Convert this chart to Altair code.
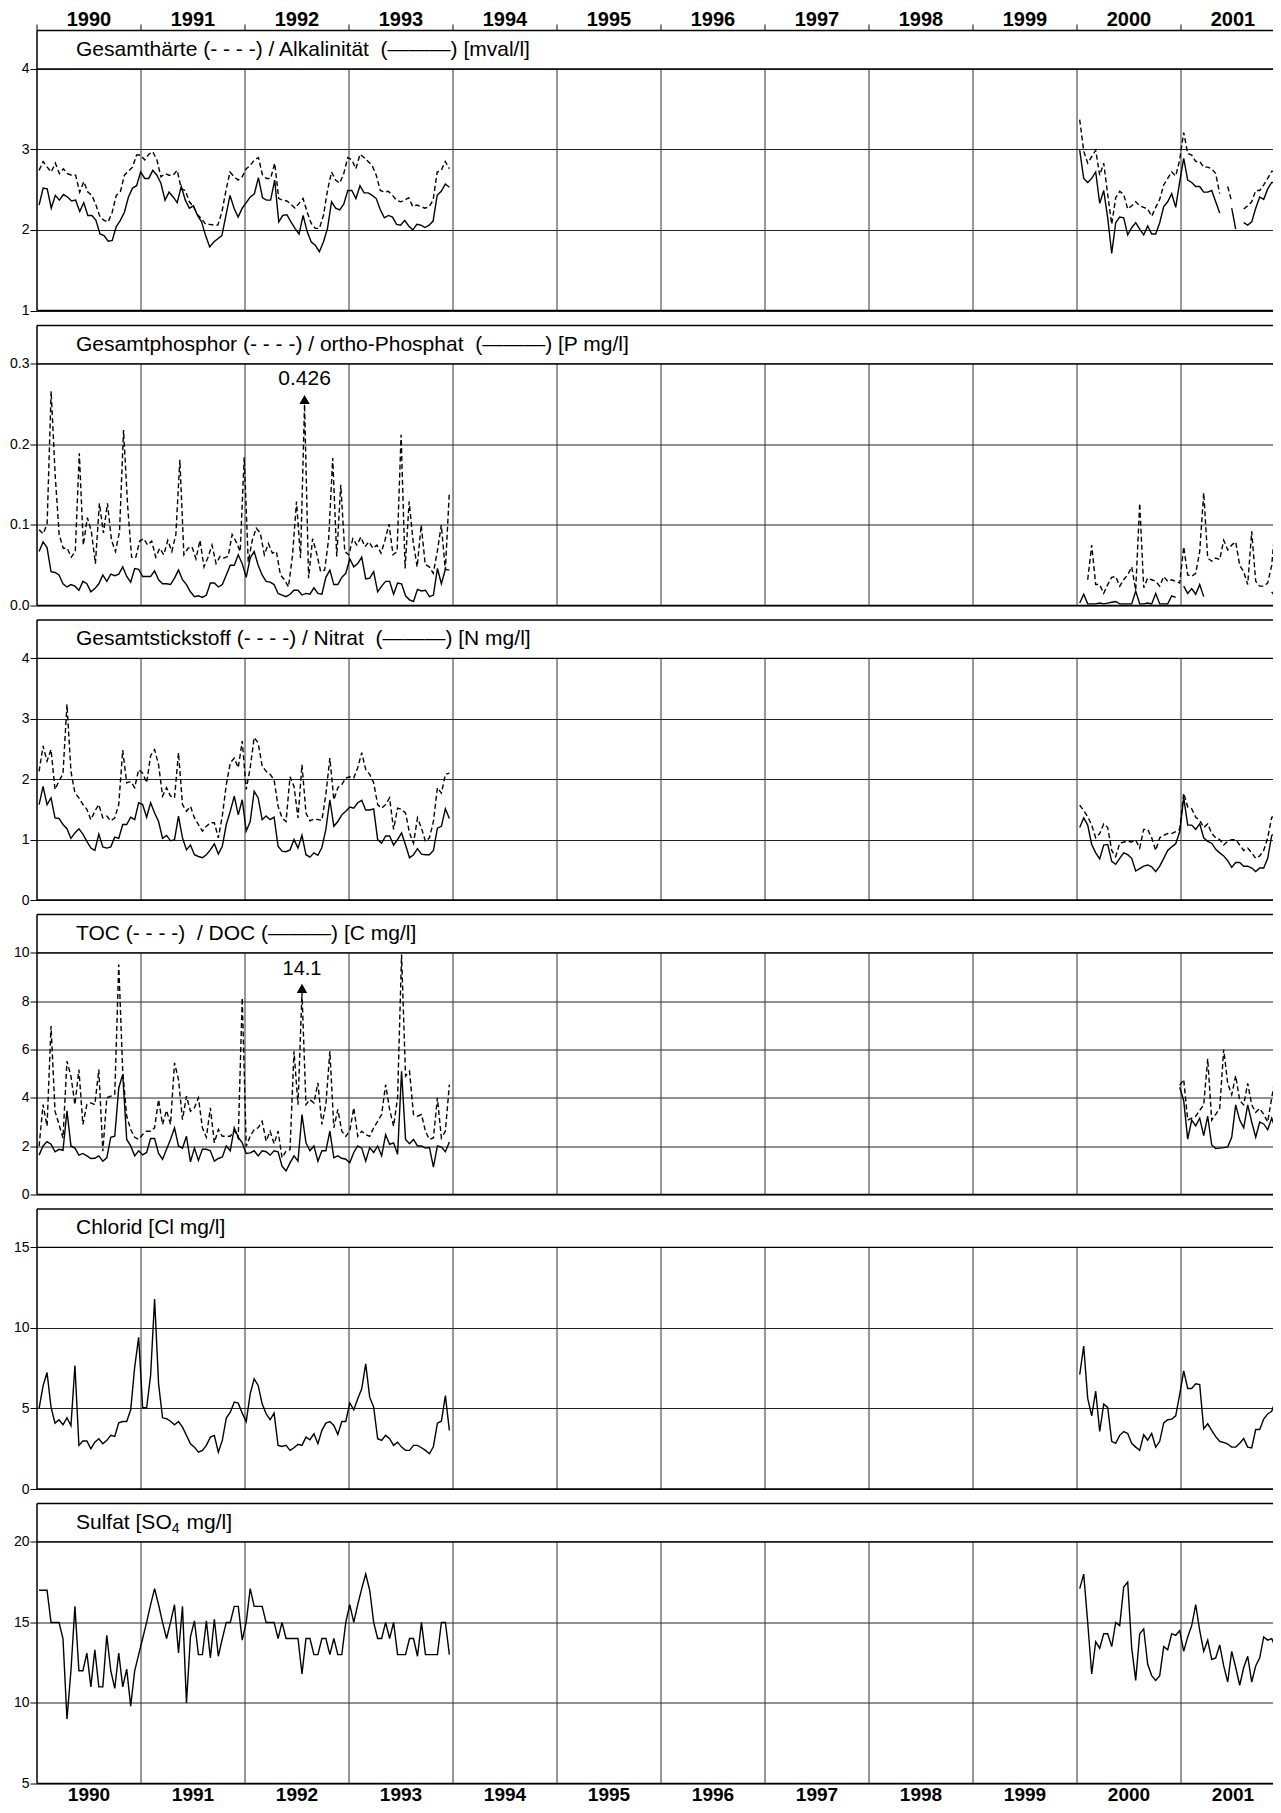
import altair as alt
import numpy as np
import pandas as pd

FONT = "Liberation Sans"

# ---------------- layout ----------------
W = 1244            # plot width in px
YEAR_PX = 104.0     # px per year
H_HEAD = 38.4       # header band
H_PLOT = 241.6      # plot band
H = H_HEAD + H_PLOT
B_TOP = 22.5        # band for the year labels above the first panel
B_BOT = 22.0        # band for the year labels below the last panel
TOP_BASE = 18.0     # baseline of the top year labels (px from top)
BOT_ROOM = 4.3      # room kept below the bottom labels' baseline
SPACING = 14.5
X0 = 1990.0
X1 = X0 + W / YEAR_PX

years = list(range(1990, 2002))
grid_years = list(range(1991, 2002))

# sampling periods (decimal years): 1990-1993 and 2000-2001, bi-weekly samples
P1_START, P1_END = 1990.02, 1993.965
P2_START, P2_STEP = 2000.026, 1.0 / 26.0

# ---------------- data ----------------
# Panel 1: Gesamthaerte (dashed) / Alkalinitaet (solid) [mval/l]
gesamthaerte_90 = [2.74, 2.85, 2.78, 2.72, 2.83, 2.70, 2.76, 2.70, 2.68, 2.68, 2.47, 2.60, 2.47, 2.43, 2.31, 2.16, 2.12, 2.10, 2.22, 2.43, 2.47, 2.68, 2.73, 2.78, 2.93, 2.93,
                   2.87, 2.94, 2.97, 2.87, 2.66, 2.70, 2.68, 2.68, 2.74, 2.51, 2.49, 2.35, 2.29, 2.19, 2.14, 2.07, 2.07, 2.06, 2.06, 2.22, 2.49, 2.72, 2.66, 2.62, 2.66,
                   2.76, 2.80, 2.87, 2.90, 2.68, 2.64, 2.64, 2.83, 2.39, 2.37, 2.36, 2.32, 2.27, 2.33, 2.39, 2.22, 2.08, 2.02, 2.02, 2.18, 2.49, 2.72, 2.62, 2.58, 2.70, 2.90,
                   2.87, 2.76, 2.94, 2.90, 2.85, 2.80, 2.68, 2.49, 2.47, 2.48, 2.43, 2.37, 2.35, 2.37, 2.40, 2.29, 2.31, 2.29, 2.27, 2.29, 2.37, 2.72, 2.74, 2.85, 2.76]
alkalinitaet_90 = [2.31, 2.52, 2.51, 2.27, 2.43, 2.37, 2.44, 2.41, 2.36, 2.37, 2.23, 2.34, 2.18, 2.18, 2.12, 1.95, 1.93, 1.86, 1.87, 2.04, 2.12, 2.22, 2.41, 2.52, 2.55, 2.72,
                   2.64, 2.64, 2.74, 2.68, 2.58, 2.37, 2.47, 2.41, 2.34, 2.54, 2.37, 2.27, 2.30, 2.18, 2.10, 1.93, 1.79, 1.85, 1.89, 1.93, 2.18, 2.43, 2.27, 2.16, 2.27,
                   2.34, 2.41, 2.45, 2.65, 2.40, 2.37, 2.37, 2.62, 2.10, 2.18, 2.19, 2.10, 2.02, 1.95, 2.18, 1.98, 1.85, 1.81, 1.73, 1.85, 2.02, 2.35, 2.27, 2.25, 2.32, 2.49,
                   2.49, 2.39, 2.55, 2.46, 2.46, 2.43, 2.39, 2.25, 2.15, 2.18, 2.16, 2.07, 2.06, 2.12, 2.05, 2.00, 2.07, 2.06, 2.03, 2.06, 2.11, 2.43, 2.48, 2.57, 2.53]
gesamthaerte_00 = [3.37, 2.98, 2.83, 2.91, 2.99, 2.68, 2.83, 2.44, 2.07, 2.40, 2.48, 2.44, 2.26, 2.30, 2.35, 2.30, 2.28, 2.26, 2.17, 2.28, 2.38, 2.56, 2.64, 2.72, 2.67, 2.87,
                   3.21, 2.95, 2.93, 2.85, 2.85, 2.78, 2.78, 2.76, 2.70, 2.45, None, 2.54, 2.35, None, None, 2.26, 2.30, 2.35, 2.49, 2.49, 2.56, 2.64, 2.73, 2.72, 2.74]
alkalinitaet_00 = [2.99, 2.64, 2.59, 2.64, 2.72, 2.33, 2.49, 2.15, 1.71, 2.09, 2.16, 2.15, 1.94, 2.03, 2.09, 2.01, 1.94, 2.05, 1.95, 1.95, 2.09, 2.29, 2.35, 2.45, 2.28, 2.60,
                   2.89, 2.62, 2.59, 2.54, 2.54, 2.47, 2.47, 2.49, 2.35, 2.21, None, None, 2.27, 2.01, None, 2.09, 2.06, 2.10, 2.27, 2.41, 2.38, 2.51, 2.59, 2.59, 2.39]

# Panel 2: Gesamtphosphor (dashed) / ortho-Phosphat (solid) [P mg/l]
gesamtphosphor_90 = [0.094, 0.089, 0.101, 0.266, 0.162, 0.088, 0.071, 0.071, 0.060, 0.067, 0.189, 0.075, 0.109, 0.092, 0.052, 0.127, 0.090, 0.127, 0.081, 0.067, 0.092, 0.218, 0.125, 0.060, 0.059, 0.080,
                     0.083, 0.075, 0.080, 0.060, 0.071, 0.063, 0.081, 0.067, 0.088, 0.181, 0.063, 0.071, 0.073, 0.058, 0.081, 0.048, 0.060, 0.075, 0.052, 0.061, 0.059, 0.061, 0.088, 0.079, 0.067, 0.184,
                     0.054, 0.081, 0.096, 0.090, 0.063, 0.077, 0.065, 0.067, 0.038, 0.032, 0.023, 0.062, 0.129, 0.059, 0.426, 0.034, 0.083, 0.065, 0.042, 0.044, 0.083, 0.183, 0.061, 0.150, 0.067, 0.063,
                     0.083, 0.075, 0.085, 0.073, 0.079, 0.071, 0.075, 0.065, 0.081, 0.101, 0.063, 0.067, 0.212, 0.046, 0.129, 0.079, 0.048, 0.100, 0.051, 0.048, 0.040, 0.067, 0.100, 0.044, 0.141]
orthophosphat_90 = [0.067, 0.079, 0.072, 0.042, 0.041, 0.038, 0.027, 0.023, 0.026, 0.024, 0.019, 0.030, 0.027, 0.017, 0.021, 0.027, 0.038, 0.030, 0.039, 0.037, 0.039, 0.048, 0.036, 0.029, 0.046, 0.045,
                    0.036, 0.036, 0.036, 0.043, 0.032, 0.027, 0.027, 0.026, 0.034, 0.044, 0.032, 0.026, 0.017, 0.011, 0.012, 0.010, 0.013, 0.028, 0.028, 0.023, 0.026, 0.038, 0.050, 0.050, 0.063, 0.052,
                    0.035, 0.059, 0.067, 0.050, 0.038, 0.030, 0.029, 0.026, 0.015, 0.013, 0.011, 0.014, 0.019, 0.019, 0.013, 0.015, 0.014, 0.022, 0.015, 0.014, 0.035, 0.044, 0.026, 0.026, 0.035, 0.040,
                    0.058, 0.048, 0.052, 0.060, 0.033, 0.034, 0.042, 0.017, 0.024, 0.030, 0.030, 0.014, 0.028, 0.027, 0.012, 0.007, 0.005, 0.020, 0.018, 0.019, 0.011, 0.013, 0.046, 0.027, 0.045, 0.044]
gesamtphosphor_00 = [None, None, 0.032, 0.075, 0.026, 0.026, 0.015, 0.026, 0.035, 0.036, 0.024, 0.032, 0.038, 0.048, 0.019, 0.127, 0.022, 0.034, 0.032, 0.030, 0.024, 0.036, 0.030, 0.032, 0.030, 0.028,
                     0.073, 0.038, 0.036, 0.040, 0.067, 0.140, 0.059, 0.055, 0.059, 0.057, 0.081, 0.069, 0.075, 0.079, 0.050, 0.042, 0.026, 0.092, 0.030, 0.024, 0.024, 0.028, 0.050, 0.105, 0.036]
orthophosphat_00 = [0.003, 0.014, 0.002, 0.002, 0.002, 0.003, 0.002, 0.003, 0.004, 0.005, 0.002, 0.002, 0.002, 0.002, 0.018, 0.002, 0.002, 0.003, 0.002, 0.015, 0.002, 0.002, 0.002, 0.012, 0.010, None,
                    0.024, 0.015, 0.021, 0.014, 0.026, 0.011, None, None, None, None, None, None, None, None, None, None, None, None, None, None, None, None, 0.017, 0.010, 0.008]

# Panel 3: Gesamtstickstoff (dashed) / Nitrat (solid) [N mg/l]
gesamtstickstoff_90 = [2.13, 2.55, 2.30, 2.49, 1.83, 1.97, 2.09, 3.24, 2.13, 1.77, 1.69, 1.58, 1.50, 1.33, 1.47, 1.58, 1.36, 1.39, 1.31, 1.36, 1.58, 2.48, 1.94, 1.96, 1.86, 2.16,
                       2.10, 1.94, 2.39, 2.49, 2.24, 1.72, 1.86, 1.72, 1.69, 2.44, 1.58, 1.47, 1.55, 1.36, 1.25, 1.14, 1.22, 1.28, 1.28, 1.03, 1.39, 1.91, 2.27, 2.35, 2.19, 2.63,
                       1.83, 2.19, 2.69, 2.60, 2.22, 2.13, 2.08, 1.99, 1.55, 1.36, 1.30, 2.04, 1.88, 1.36, 2.24, 1.44, 1.31, 1.34, 1.33, 1.32, 1.75, 2.35, 1.66, 1.86, 1.91, 2.02,
                       2.04, 2.02, 2.19, 2.44, 2.16, 2.08, 1.94, 1.58, 1.52, 1.58, 1.69, 1.17, 1.52, 1.50, 1.44, 1.11, 0.94, 1.36, 1.19, 0.97, 1.03, 1.30, 1.86, 1.77, 2.08, 2.10]
nitrat_90 = [1.58, 1.88, 1.58, 1.69, 1.36, 1.35, 1.25, 1.18, 1.02, 1.11, 1.18, 1.09, 0.97, 0.86, 0.82, 1.09, 0.88, 0.86, 0.88, 1.04, 1.02, 1.25, 1.25, 1.37, 1.33, 1.61,
             1.58, 1.37, 1.61, 1.44, 1.30, 1.02, 1.07, 0.98, 1.00, 1.39, 1.03, 0.83, 0.91, 0.75, 0.72, 0.70, 0.75, 0.83, 0.93, 0.76, 0.89, 1.25, 1.47, 1.72, 1.41, 1.66,
             1.14, 1.30, 1.80, 1.69, 1.33, 1.39, 1.33, 1.37, 0.89, 0.81, 0.80, 0.83, 1.00, 0.86, 1.07, 0.75, 0.71, 0.78, 0.74, 0.87, 1.17, 1.66, 1.22, 1.30, 1.41, 1.47,
             1.54, 1.52, 1.61, 1.65, 1.49, 1.49, 1.51, 1.00, 0.94, 1.06, 1.06, 0.91, 1.00, 1.11, 0.91, 0.70, 0.75, 0.85, 0.76, 0.75, 0.75, 0.82, 1.19, 1.22, 1.51, 1.35]
gesamtstickstoff_00 = [1.57, 1.48, 1.38, 1.24, 1.03, 1.10, 1.26, 1.20, 0.82, 0.72, 0.94, 0.96, 0.97, 0.96, 0.99, 0.86, 1.17, 1.17, 1.03, 0.82, 1.03, 1.07, 1.10, 1.10, 1.13, 1.17,
                       1.77, 1.54, 1.51, 1.37, 1.32, 1.20, 1.26, 1.10, 1.03, 1.00, 0.91, 0.97, 1.00, 1.00, 0.91, 0.82, 0.86, 0.78, 0.69, 0.73, 0.82, 1.03, 1.37, 1.38, 1.17]
nitrat_00 = [1.20, 1.36, 1.24, 0.92, 0.78, 0.68, 0.91, 0.92, 0.64, 0.59, 0.69, 0.78, 0.75, 0.69, 0.48, 0.52, 0.56, 0.58, 0.55, 0.47, 0.56, 0.69, 0.82, 0.88, 0.93, 1.13,
             1.70, 1.24, 1.24, 1.17, 1.26, 1.03, 0.97, 0.94, 0.84, 0.78, 0.73, 0.65, 0.54, 0.62, 0.62, 0.56, 0.56, 0.53, 0.47, 0.53, 0.53, 0.69, 1.07, 1.10, 0.91]

# Panel 4: TOC (dashed) / DOC (solid) [C mg/l]
toc_90 = [2.00, 3.72, 2.83, 6.97, 3.45, 2.90, 2.34, 5.52, 4.90, 3.72, 5.17, 2.90, 3.72, 3.79, 3.72, 5.17, 1.79, 4.00, 4.07, 4.14, 9.52, 5.10, 3.24, 2.69, 2.37, 2.28,
          2.48, 2.62, 2.62, 2.76, 3.93, 2.90, 3.48, 2.90, 5.45, 4.76, 3.10, 4.07, 3.45, 3.59, 4.00, 2.76, 2.37, 3.59, 2.14, 2.69, 2.41, 2.41, 2.41, 2.65, 2.34, 8.14,
          2.00, 2.41, 2.69, 2.76, 3.03, 2.21, 2.62, 2.10, 2.62, 1.52, 1.79, 1.86, 5.93, 3.72, 14.1, 3.72, 3.93, 3.79, 4.62, 2.90, 3.72, 5.93, 2.76, 3.52, 2.62, 2.41,
          2.62, 3.59, 2.41, 2.62, 2.48, 2.41, 2.76, 3.03, 3.31, 4.55, 3.52, 2.83, 4.00, 9.93, 4.90, 5.10, 3.31, 3.24, 3.31, 2.62, 2.28, 2.34, 4.00, 2.34, 2.62, 4.55]
doc_90 = [1.63, 2.01, 2.19, 2.08, 1.77, 1.87, 1.83, 3.46, 2.01, 1.92, 1.63, 1.70, 1.60, 1.49, 1.50, 1.60, 1.38, 1.52, 2.37, 2.41, 4.41, 4.97, 2.28, 2.01, 1.60, 1.81,
          1.64, 1.74, 2.32, 2.32, 1.70, 1.46, 1.87, 2.28, 2.76, 2.01, 1.92, 2.41, 1.35, 1.92, 1.41, 1.87, 1.87, 1.81, 1.38, 1.49, 1.55, 2.01, 1.81, 2.76, 2.37, 2.14,
          1.70, 1.72, 1.81, 1.60, 1.81, 1.77, 1.63, 1.81, 1.77, 1.17, 0.97, 1.31, 1.60, 1.38, 3.31, 2.14, 1.81, 2.01, 1.38, 1.81, 1.81, 2.62, 1.52, 1.60, 1.50, 1.46,
          1.31, 1.74, 2.01, 1.92, 1.38, 1.94, 1.74, 2.01, 1.60, 2.48, 2.08, 2.14, 1.66, 5.10, 2.28, 2.10, 2.28, 2.01, 2.01, 1.92, 1.94, 1.13, 2.01, 1.96, 1.77, 2.17]
toc_00 = [None] * 25 + [4.52, 4.76, 3.08, 3.16, 3.24, 3.48, 3.71, 5.62, 3.08, 3.32, 3.56, 6.00, 4.60, 4.13, 4.92, 3.89, 3.71, 4.60, 3.71, 3.40, 3.56, 3.32, 3.00, 4.00, 4.92, 3.71]
doc_00 = [None] * 25 + [4.44, 3.88, 2.29, 3.08, 2.84, 3.16, 2.44, 3.24, 2.05, 1.90, 1.92, 1.94, 1.97, 2.37, 3.71, 3.08, 2.76, 3.71, 3.00, 2.37, 3.00, 2.92, 2.68, 3.16, 2.68, 1.81]

# Panel 5: Chlorid [Cl mg/l]
chlorid_90 = [5.00, 6.40, 7.23, 5.08, 4.09, 4.30, 3.99, 4.42, 3.93, 7.67, 2.71, 2.98, 2.98, 2.50, 2.91, 3.12, 2.81, 3.02, 3.33, 3.26, 4.11, 4.19, 4.19, 4.92, 7.56, 9.42,
              5.04, 5.04, 7.05, 11.8, 6.53, 4.42, 4.36, 4.21, 3.99, 4.19, 3.84, 3.33, 2.81, 2.60, 2.29, 2.40, 2.71, 3.22, 3.33, 2.29, 3.02, 4.40, 4.77, 5.39, 5.33, 4.71,
              4.19, 5.91, 6.84, 6.43, 5.29, 4.67, 4.30, 4.71, 2.71, 2.64, 2.71, 2.40, 2.56, 2.77, 2.71, 3.22, 3.06, 3.43, 2.81, 3.64, 4.09, 4.19, 3.95, 3.39, 4.19, 4.19,
              5.35, 4.92, 5.60, 6.22, 7.77, 5.70, 5.08, 3.12, 3.02, 3.33, 3.12, 2.71, 2.91, 2.60, 2.40, 2.40, 2.71, 2.71, 2.56, 2.40, 2.19, 2.64, 4.09, 4.21, 5.80, 3.64]
chlorid_00 = [7.10, 8.87, 5.63, 4.54, 6.07, 3.57, 5.27, 5.07, 2.96, 2.84, 3.33, 3.57, 3.45, 2.84, 2.60, 2.40, 3.37, 3.03, 3.45, 2.60, 2.96, 4.10, 4.30, 4.34, 4.54, 5.87,
              7.33, 6.24, 6.24, 6.53, 6.48, 3.74, 4.05, 3.64, 3.25, 2.96, 2.89, 2.79, 2.60, 2.60, 2.84, 3.13, 2.60, 2.55, 3.69, 3.69, 4.34, 4.66, 4.83, 5.51, 3.57]

# Panel 6: Sulfat [SO4 mg/l]
sulfat_90 = [17.0, 17.0, 17.0, 15.0, 15.0, 15.0, 14.0, 9.0, 12.0, 16.0, 12.0, 12.0, 13.1, 11.0, 13.3, 11.0, 11.0, 14.2, 12.0, 10.9, 13.1, 11.0, 12.1, 9.8, 12.0, 13.0,
             14.0, 15.0, 16.1, 17.1, 16.1, 15.0, 14.0, 15.0, 16.1, 13.1, 16.0, 10.0, 14.1, 15.1, 13.0, 13.0, 15.1, 12.8, 15.2, 12.9, 14.0, 15.0, 15.0, 16.0, 16.0, 13.9,
             15.0, 17.1, 16.0, 16.0, 16.0, 15.0, 15.0, 15.0, 14.0, 15.0, 14.0, 14.0, 14.0, 14.0, 11.8, 14.0, 14.0, 13.0, 13.0, 14.0, 14.0, 13.0, 14.0, 13.0, 13.0, 15.0,
             16.1, 15.0, 16.1, 17.1, 18.0, 17.0, 15.0, 14.0, 14.0, 15.0, 14.0, 15.0, 13.0, 13.0, 13.0, 14.0, 14.0, 12.9, 15.0, 13.0, 13.0, 13.0, 13.0, 15.0, 15.0, 13.0]
sulfat_00 = [17.1, 18.0, 15.0, 11.8, 13.8, 13.4, 14.3, 14.3, 13.5, 15.0, 14.8, 17.2, 17.5, 13.4, 11.4, 14.3, 14.6, 12.4, 11.7, 11.4, 11.7, 13.5, 13.3, 14.3, 14.2, 14.5,
             13.2, 14.1, 14.8, 16.1, 14.5, 13.2, 13.9, 12.7, 12.8, 13.6, 12.3, 11.3, 13.2, 12.2, 11.1, 12.2, 12.9, 11.3, 12.3, 12.8, 14.1, 13.9, 14.0, 13.4, 14.3]


# ---------------- helpers ----------------
def series_frame(vals90, vals00):
    rows = []
    for period, vals in ((1, vals90), (2, vals00)):
        n = len(vals)
        if period == 1:
            ts = np.linspace(P1_START, P1_END, n)
        else:
            ts = P2_START + P2_STEP * np.arange(n)
        seg, broken = 0, True
        for t, v in zip(ts, vals):
            if v is None:
                broken = True
                continue
            if broken:
                seg += 1
                broken = False
            rows.append({"t": float(t), "v": float(v), "seg": f"{period}-{seg}"})
    return pd.DataFrame(rows)


ONE = pd.DataFrame({"k": [0]})
YEARS_DF = pd.DataFrame({"yr": years, "mid": [y + 0.5 for y in years], "label": [str(y) for y in years]})


def build_panel(idx, header, ymin, ymax, yticks, yfmt, dashed=None, solid=None, cap=None, annot=None):
    top_band = B_TOP if idx == 0 else 0.0
    bot_band = B_BOT if idx == 5 else 0.0
    view_h = top_band + H_HEAD + H_PLOT + bot_band
    span = ymax - ymin
    ytop = ymax + span * (H_HEAD + top_band) / H_PLOT
    ybot = ymin - span * bot_band / H_PLOT
    xsc = alt.Scale(domain=[X0, X1], nice=False, zero=False)
    ysc = alt.Scale(domain=[ybot, ytop], nice=False, zero=False)
    yax = alt.Axis(values=yticks, format=yfmt, title=None, domain=False,
                   ticks=True, tickSize=7, tickColor="black", tickWidth=1,
                   labelFont=FONT, labelFontSize=14, labelColor="black", labelPadding=1,
                   labelOverlap=False, grid=True, gridColor="#222222", gridWidth=1,
                   minExtent=29, maxExtent=29)

    def X(f):
        return alt.X(f"{f}:Q", scale=xsc, axis=None, title=None)

    def Y(f):
        return alt.Y(f"{f}:Q", scale=ysc, axis=yax, title=None)

    layers = []
    # vertical year lines inside the plot band
    yr = pd.DataFrame({"yr": grid_years, "y0": [ymin] * len(grid_years), "y1": [ymax] * len(grid_years)})
    layers.append(alt.Chart(yr).mark_rule(color="#333333", strokeWidth=1)
                  .encode(x=X("yr"), y=Y("y0"), y2=alt.Y2("y1")))
    # bottom and top lines of the plot band
    layers.append(alt.Chart(pd.DataFrame({"yb": [ymin]})).mark_rule(color="black", strokeWidth=1.7)
                  .encode(y=Y("yb"), x=alt.value(0), x2=alt.value(W - 2)))
    layers.append(alt.Chart(pd.DataFrame({"yb": [ymax]})).mark_rule(color="black", strokeWidth=1.3)
                  .encode(y=Y("yb"), x=alt.value(0), x2=alt.value(W - 2)))
    # header top line and left border
    layers.append(alt.Chart(ONE).mark_rule(color="black", strokeWidth=1.7)
                  .encode(y=alt.value(top_band), x=alt.value(0), x2=alt.value(W - 2)))
    layers.append(alt.Chart(ONE).mark_rule(color="black", strokeWidth=1.5)
                  .encode(x=alt.value(0), y=alt.value(top_band), y2=alt.value(top_band + H_HEAD + H_PLOT)))

    # header text
    for text, xpos, yoff, size in header:
        layers.append(alt.Chart(ONE).mark_text(text=text, align="left", baseline="middle", font=FONT,
                                               fontSize=size, color="black")
                      .encode(x=alt.value(xpos), y=alt.value(top_band + H_HEAD / 2 + yoff)))

    # year labels (top of first panel, bottom of last panel)
    if idx == 0:
        layers.append(alt.Chart(YEARS_DF).mark_rule(color="black", strokeWidth=1)
                      .encode(x=X("yr"), y=alt.value(top_band - 6), y2=alt.value(top_band)))
        layers.append(alt.Chart(YEARS_DF).mark_text(align="center", baseline="alphabetic", font=FONT,
                                                    fontSize=20, fontWeight="bold", color="black")
                      .encode(x=X("mid"), y=alt.value(TOP_BASE), text=alt.Text("label:N")))
    if idx == 5:
        layers.append(alt.Chart(YEARS_DF).mark_text(align="center", baseline="alphabetic", font=FONT,
                                                    fontSize=19, fontWeight="bold", color="black")
                      .encode(x=X("mid"), y=alt.value(view_h - BOT_ROOM), text=alt.Text("label:N")))

    if dashed is not None:
        d = dashed.copy()
        if cap is not None:
            peak = d["v"].idxmax()
            d["vd"] = d["v"]
            d.loc[peak, "vd"] = cap   # off-scale value drawn up to the arrow
        else:
            d["vd"] = d["v"]
        layers.append(alt.Chart(d).mark_line(color="black", strokeWidth=1.4, strokeDash=[5, 3], clip=True)
                      .encode(x=X("t"), y=Y("vd"), detail=alt.Detail("seg:N")))
    if solid is not None:
        layers.append(alt.Chart(solid).mark_line(color="black", strokeWidth=1.4, clip=True)
                      .encode(x=X("t"), y=Y("v"), detail=alt.Detail("seg:N")))
    if annot is not None:
        a = pd.DataFrame([annot])
        layers.append(alt.Chart(a).mark_text(align="center", baseline="middle", font=FONT,
                                             fontSize=annot["size"], color="black")
                      .encode(x=X("t"), y=Y("ty"), text=alt.Text("label:N")))
        layers.append(alt.Chart(a).mark_point(shape="triangle-up", filled=True, size=110,
                                              color="black", opacity=1)
                      .encode(x=X("t"), y=Y("ay")))
    return alt.layer(*layers).properties(width=W, height=view_h)


# ---------------- panels ----------------
NB = "\u00a0"
HX = 39  # header text x (px from plot left)

df_gh = series_frame(gesamthaerte_90, gesamthaerte_00)
df_alk = series_frame(alkalinitaet_90, alkalinitaet_00)
df_tp = series_frame(gesamtphosphor_90, gesamtphosphor_00)
df_op = series_frame(orthophosphat_90, orthophosphat_00)
df_tn = series_frame(gesamtstickstoff_90, gesamtstickstoff_00)
df_no3 = series_frame(nitrat_90, nitrat_00)
df_toc = series_frame(toc_90, toc_00)
df_doc = series_frame(doc_90, doc_00)
df_cl = series_frame(chlorid_90, chlorid_00)
df_so4 = series_frame(sulfat_90, sulfat_00)

tp_peak = df_tp.loc[df_tp["v"].idxmax()]
toc_peak = df_toc.loc[df_toc["v"].idxmax()]

p1 = build_panel(0, [(f"Gesamthärte (- - - -) / Alkalinität {NB}(———) [mval/l]", HX, 0, 21)],
                 1, 4, [1, 2, 3, 4], "d", dashed=df_gh, solid=df_alk)
p2 = build_panel(1, [(f"Gesamtphosphor (- - - -) / ortho-Phosphat {NB}(———) [P mg/l]", HX, 0, 21)],
                 0, 0.3, [0.0, 0.1, 0.2, 0.3], ".1f", dashed=df_tp, solid=df_op, cap=0.25,
                 annot={"t": float(tp_peak["t"]), "ty": 0.281, "ay": 0.2557, "label": "0.426", "size": 21})
p3 = build_panel(2, [(f"Gesamtstickstoff (- - - -) / Nitrat {NB}(———) [N mg/l]", HX, 0, 21)],
                 0, 4, [0, 1, 2, 3, 4], "d", dashed=df_tn, solid=df_no3)
p4 = build_panel(3, [(f"TOC (- - - -) {NB}/ DOC (———) [C mg/l]", HX, 0, 21)],
                 0, 10, [0, 2, 4, 6, 8, 10], "d", dashed=df_toc, solid=df_doc, cap=8.35,
                 annot={"t": float(toc_peak["t"]), "ty": 9.35, "ay": 8.53, "label": "14.1", "size": 20})
p5 = build_panel(4, [("Chlorid [Cl mg/l]", HX, 0, 21)],
                 0, 15, [0, 5, 10, 15], "d", solid=df_cl)
p6 = build_panel(5, [("Sulfat [SO", HX, 0, 21), ("4", HX + 95.7, 6, 14), ("mg/l]", HX + 110.5, 0, 21)],
                 5, 20, [5, 10, 15, 20], "d", solid=df_so4)

# the page is 1281 x 1813 with an 8px margin: keep the drawing within 1265 x 1797
chart = (alt.vconcat(p1, p2, p3, p4, p5, p6, spacing=SPACING, bounds="flush")
         .properties(padding={"left": 0, "top": 0, "right": -8, "bottom": 0}, background="white")
         .configure_view(stroke=None))

chart.save("out.html", embed_options={"renderer": "svg", "actions": False})
